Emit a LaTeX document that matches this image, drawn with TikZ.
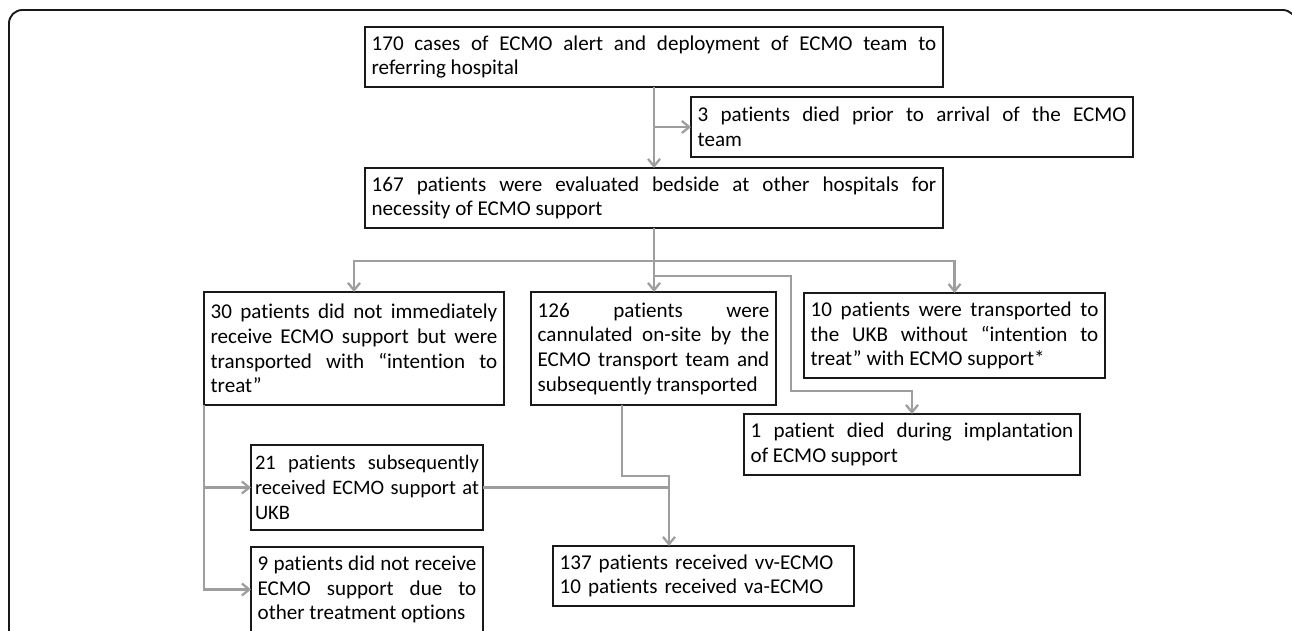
\documentclass[tikz,border=0pt]{standalone}
\usepackage{fontspec}
\setmainfont{Carlito}[Ligatures={TeX,NoCommon}]
\usetikzlibrary{arrows.meta}
\definecolor{gray1}{RGB}{158,158,158}
\definecolor{black1}{RGB}{25,25,25}
\hyphenpenalty=10000
\exhyphenpenalty=10000

\begin{document}
\begin{tikzpicture}[x=0.75pt, y=-0.75pt,
  every node/.style={font=\fontsize{15.8}{18.5}\selectfont},
  flowbox/.style={draw=black1, line width=1.5pt, anchor=north west, inner xsep=5pt, inner ysep=0pt, outer sep=0pt, align=justify},
  flowline/.style={draw=gray1, line width=1.7pt},
  flowarrow/.style={flowline, -{Straight Barb[length=5.5pt,width=9pt]}}]

\useasboundingbox (0,0) rectangle (1292,631);

% OUTER FRAME
\draw[black1, line width=1.4pt, rounded corners=10pt] (9,10) rectangle (1296,700);

% Top row
\node[flowbox, text width=423.5pt, minimum height=45pt] (alert) at (365,27)
  {170 cases of ECMO alert and deployment of ECMO team to\linebreak referring hospital};
\node[flowbox, text width=321.5pt, minimum height=45pt] (died3) at (691,97)
  {3 patients died prior to arrival of the ECMO\linebreak team};
\node[flowbox, text width=423.5pt, minimum height=45pt] (eval) at (365,168)
  {167 patients were evaluated bedside at other hospitals for\linebreak necessity of ECMO support};

% Middle row
\node[flowbox, text width=215pt, minimum height=84.75pt] (itt) at (204,292)
  {30 patients did not immediately\linebreak receive ECMO support but were\linebreak transported with “intention to\linebreak treat”};
\node[flowbox, text width=173.75pt, minimum height=84.75pt] (cann) at (531,292)
  {126 patients were\linebreak cannulated on-site by the\linebreak ECMO transport team and\linebreak subsequently transported};
\node[flowbox, text width=215.75pt, minimum height=63.75pt] (noitt) at (804,293)
  {10 patients were transported to\linebreak the UKB without “intention to\linebreak treat” with ECMO support*};
\node[flowbox, text width=242pt, minimum height=45.75pt] (died1) at (744,414)
  {1 patient died during implantation\linebreak of ECMO support};

% Bottom row
\node[flowbox, text width=168pt, inner xsep=3pt, minimum height=63.75pt,
  font=\fontsize{15.4}{18.5}\selectfont] (sub21) at (251,445)
  {21 patients subsequently\linebreak received ECMO support at\linebreak UKB};
\node[flowbox, text width=164pt, minimum height=63.75pt] (no9) at (251,547)
  {9 patients did not receive\linebreak ECMO support due to\linebreak other treatment options};
\node[flowbox, text width=215.75pt, minimum height=45pt, align=left] (result) at (553,546)
  {137 patients received vv-ECMO\\10 patients received va-ECMO};

% Connectors, top
\draw[flowarrow] (alert.south) -- (eval.north);
\draw[flowarrow] (alert.south |- died3.west) -- (died3.west);

% Connectors, split below evaluation
\coordinate (splitA) at (654,261);
\coordinate (splitB) at (654,276);
\coordinate (bendB) at (791,391);
\draw[flowarrow] (eval.south) -- (splitA) -| (itt.north);
\draw[flowarrow] (splitA) -| (noitt.north);
\draw[flowarrow] (eval.south) -- (eval.south |- cann.north);
\draw[flowarrow] (splitB) -| (bendB) -| (died1.north);

% Connectors, left branch
\draw[flowarrow] (itt.south west) |- (no9.west);
\draw[flowarrow] (itt.south west |- sub21.west) -- (sub21.west);

% Connectors, into result
\coordinate (cannout) at (622,405);
\coordinate (bendC) at (622,476);
\coordinate (dropC) at (669,546);
\draw[flowarrow] (cannout) -- (bendC) -| (dropC);
\draw[flowline] (sub21.east) -- (sub21.east -| dropC);

\end{tikzpicture}
\end{document}
